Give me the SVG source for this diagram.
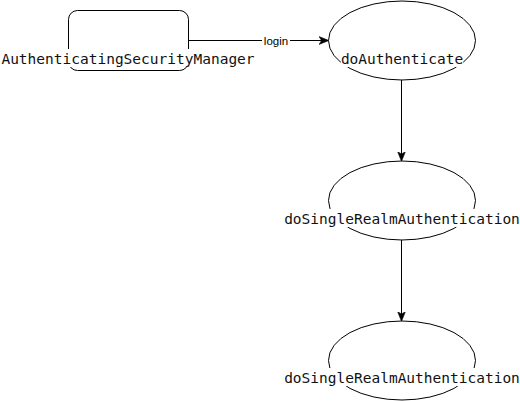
<svg xmlns="http://www.w3.org/2000/svg" width="520" height="401" viewBox="0 0 520 401">
<style>
.shape{fill:#fff;stroke:#000;stroke-width:1}
.lbl{font-family:"DejaVu Sans Mono",monospace;font-size:14.5px;fill:#111;text-anchor:middle}
.bg{fill:#fff}
.edge{stroke:#000;stroke-width:1;fill:none}
.elbl{font-family:"Liberation Sans",Arial,sans-serif;font-size:11.5px;fill:#000;text-anchor:middle}
</style>
<defs>
<marker id="arr" viewBox="0 0 10 10" refX="9" refY="5" markerWidth="10" markerHeight="10" markerUnits="userSpaceOnUse" orient="auto">
<path d="M0,1 L10,5 L0,9 L2.5,5 Z" fill="#000" stroke="#000" stroke-width="0.5"/>
</marker>
</defs>
<rect width="520" height="401" fill="#fff"/>
<g id="connectors">
<line class="edge" x1="188" y1="40.5" x2="328" y2="40.5" marker-end="url(#arr)"/>
<rect class="bg" x="262" y="34" width="28" height="14"/>
<text class="elbl" x="276" y="45">login</text>
<line class="edge" x1="401.5" y1="80" x2="401.5" y2="160.5" marker-end="url(#arr)"/>
<line class="edge" x1="401.5" y1="240" x2="401.5" y2="320.5" marker-end="url(#arr)"/>
</g>
<g id="node-asm">
<rect class="shape" x="68.5" y="10.5" width="120" height="60" rx="9" ry="9"/>
<rect class="bg" x="1" y="49" width="254" height="18"/>
<text class="lbl" x="128" y="64">AuthenticatingSecurityManager</text>
</g>
<g id="node-doauth">
<ellipse class="shape" cx="402" cy="40.5" rx="73.5" ry="39.5"/>
<rect class="bg" x="341" y="49" width="122" height="18"/>
<text class="lbl" x="402" y="64">doAuthenticate</text>
</g>
<g id="node-single1">
<ellipse class="shape" cx="402" cy="200.5" rx="73.5" ry="39.5"/>
<rect class="bg" x="284" y="209" width="235" height="18"/>
<text class="lbl" x="402" y="224">doSingleRealmAuthentication</text>
</g>
<g id="node-single2">
<ellipse class="shape" cx="402" cy="360.5" rx="73.5" ry="39.5"/>
<rect class="bg" x="284" y="368" width="235" height="18"/>
<text class="lbl" x="402" y="383">doSingleRealmAuthentication</text>
</g>
</svg>
